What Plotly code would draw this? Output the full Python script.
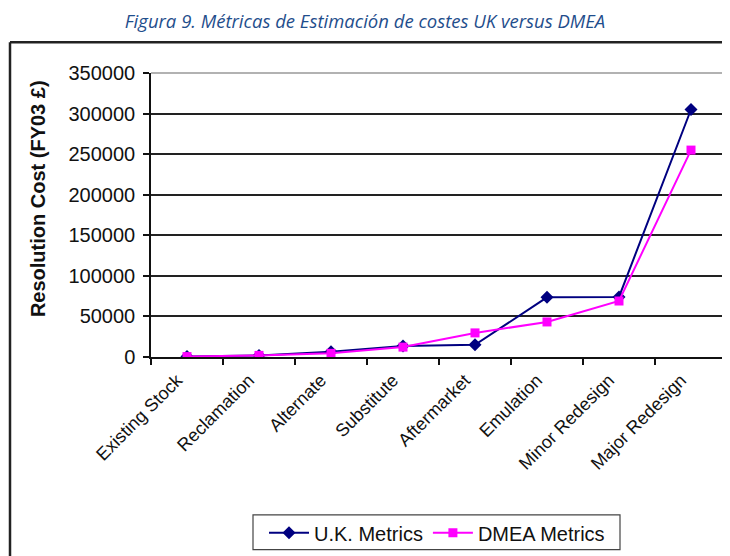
import plotly.graph_objects as go

categories = ["Existing Stock", "Reclamation", "Alternate", "Substitute",
              "Aftermarket", "Emulation", "Minor Redesign", "Major Redesign"]
uk_metrics = [500, 2000, 6500, 13500, 15000, 73500, 74000, 305000]
dmea_metrics = [500, 2000, 4500, 12200, 29700, 43200, 69000, 255000]
y_ticks = [0, 50000, 100000, 150000, 200000, 250000, 300000, 350000]

W, H = 730, 556
OFF = 8  # page body margin
# screen-space plot area: x 151..727, y 73..359
L, T = 151 - OFF, 73 - OFF
R = W - (727 - OFF)
B = H - (359 - OFF)
pw, ph = W - L - R, H - T - B


def px(xs):
    return (xs - OFF - L) / pw


def py(ys):
    return 1 - (ys - OFF - T) / ph


fig = go.Figure()
fig.add_trace(go.Scatter(
    x=categories, y=uk_metrics, name="U.K. Metrics", mode="lines+markers",
    line=dict(color="#000080", width=2),
    marker=dict(symbol="diamond", size=10, color="#000080")))
fig.add_trace(go.Scatter(
    x=categories, y=dmea_metrics, name="DMEA Metrics", mode="lines+markers",
    line=dict(color="#FF00FF", width=2),
    marker=dict(symbol="square", size=9, color="#FF00FF")))

shapes = [
    # outer chart frame (left + top)
    dict(type="line", xref="paper", yref="paper", x0=px(10), x1=px(10),
         y0=py(42), y1=py(600), line=dict(color="#222222", width=2.5)),
    dict(type="line", xref="paper", yref="paper", x0=px(10), x1=px(760),
         y0=py(42), y1=py(42), line=dict(color="#222222", width=2.5)),
    # plot area border (top + right)
    dict(type="line", xref="paper", yref="paper", x0=0, x1=1, y0=1, y1=1,
         line=dict(color="#999999", width=1.5)),
    dict(type="line", xref="paper", yref="paper", x0=1, x1=1, y0=0, y1=1,
         line=dict(color="#999999", width=1.5)),
    # legend box
    dict(type="rect", xref="paper", yref="paper", x0=px(253), x1=px(620),
         y0=py(553), y1=py(518), line=dict(color="#444444", width=1.2),
         fillcolor="rgba(0,0,0,0)"),
]

annotations = [
    dict(text="<b>Resolution Cost (FY03 £)</b>", xref="paper", yref="paper",
         x=px(38), y=py(200), xanchor="center", yanchor="middle", textangle=-90,
         showarrow=False, font=dict(size=20, color="#111111")),
]

fig.update_layout(
    width=W, height=H,
    margin=dict(l=L, r=R, t=T, b=B),
    paper_bgcolor="white", plot_bgcolor="white",
    font=dict(family="Liberation Sans, Arial, sans-serif", color="#111111", size=15),
    title=dict(text="<i>Figura 9. Métricas de Estimación de costes UK versus DMEA</i>",
               x=(365 - OFF) / W, xref="container", xanchor="center",
               y=1 - (22 - OFF) / H, yref="container", yanchor="middle",
               font=dict(family="Open Sans, sans-serif", size=18.5, color="#1F4E8C")),
    showlegend=True,
    legend=dict(orientation="h", x=px(437), xanchor="center", y=py(536), yanchor="middle",
                font=dict(size=20, color="#111111"), bgcolor="rgba(0,0,0,0)",
                itemwidth=40, tracegroupgap=0),
    shapes=shapes,
    annotations=annotations,
)
fig.update_xaxes(
    type="category", tickangle=-45, tickson="boundaries",
    ticks="outside", ticklen=6, tickcolor="#111111", tickwidth=1.5,
    showline=True, linecolor="#111111", linewidth=1.5,
    showgrid=False, tickfont=dict(size=18, color="#111111"),
    ticklabelshift=-10, ticklabelstandoff=4,
    range=[-0.5, 7.5], automargin=False,
)
fig.update_yaxes(
    range=[0, 350000], tickvals=y_ticks, ticktext=[str(v) for v in y_ticks],
    ticks="outside", ticklen=6, tickcolor="#111111", tickwidth=1.5,
    showline=True, linecolor="#111111", linewidth=1.5,
    showgrid=True, gridcolor="#222222", gridwidth=1.5, zeroline=False,
    tickfont=dict(size=20, color="#111111"), ticklabelstandoff=4,
    automargin=False,
)

fig.write_html("out.html")
